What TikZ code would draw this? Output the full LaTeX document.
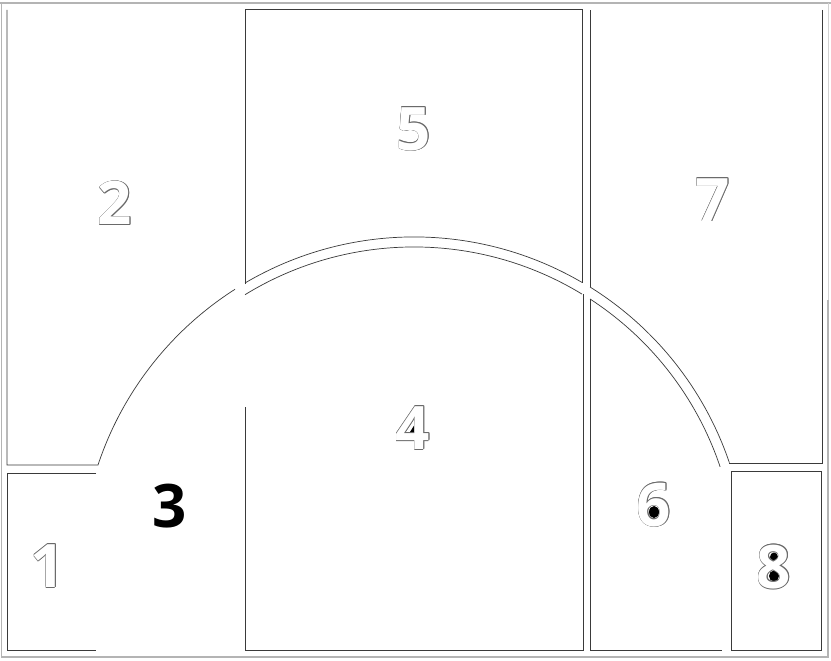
\documentclass[tikz,border=0pt]{standalone}
\usepackage{fontspec}
\setmainfont{Open Sans}
\definecolor{edge}{HTML}{3A3A3A}
\definecolor{framegray}{HTML}{B4B4B4}
\definecolor{olgray}{HTML}{6A6A6A}
\newcommand\oc[3]{\makebox[0pt][l]{\hspace*{#1}\raisebox{#2}{\color{olgray}#3}}}
\newcommand\olnum[1]{\oc{0.6pt}{0pt}{#1}\oc{-0.6pt}{0pt}{#1}\oc{0pt}{0.6pt}{#1}\oc{0pt}{-0.6pt}{#1}\oc{0.42pt}{0.42pt}{#1}\oc{-0.42pt}{0.42pt}{#1}\oc{0.42pt}{-0.42pt}{#1}\oc{-0.42pt}{-0.42pt}{#1}{\color{white}#1}}
\begin{document}
\begin{tikzpicture}[x=1pt,y=-1pt,
  panel/.style={draw=edge,line width=0.7pt},
  outer/.style={draw=framegray,line width=1.2pt},
  numlabel/.style={font=\fontsize{60}{60}\selectfont\bfseries,inner sep=0pt,anchor=center},
  boldlabel/.style={font=\fontsize{60}{60}\selectfont\bfseries,inner sep=0pt,anchor=center,text=black},
  hole/.style={fill=black,draw=none}]
\useasboundingbox (0,0) rectangle (831,661);
\fill[white] (0,0) rectangle (831,661);
% outer frame (shadow)
\draw[outer] (0,3) -- (831,3);
\draw[draw=framegray,line width=0.8pt] (1,3) -- (1,657);
\draw[outer] (1,657) -- (828,657) -- (828,300);
\draw[draw=framegray!60,line width=0.8pt] (828,300) -- (828,3);
% panel 2
\draw[panel] (7,10) -- (7,465) -- (98,465) arc[start angle=198.4,end angle=237.5,radius=333];
% panel 5
\draw[panel] (245,284) -- (245,9) -- (582,9) -- (582,282.5);
\draw[panel] (245,283) arc[start angle=239.5,end angle=300.3,radius=333];
% panel 7
\draw[panel] (590,287) -- (590,10);
\draw[panel] (822,10) -- (822,463) -- (729,463);
\draw[panel] (590,287) arc[start angle=301.9,end angle=341.26,radius=333];
% panel 1
\draw[panel] (96,473) -- (7,473) -- (7,650) -- (96,650);
% panel 4
\draw[panel] (245,294.7) arc[start angle=238.45,end angle=301.34,radius=323];
\draw[panel] (245,407) -- (245,650) -- (583,650) -- (583,294);
% panel 6
\draw[panel] (590,299) arc[start angle=303.02,end angle=341.4,radius=323];
\draw[panel] (590,299) -- (590,650) -- (722,650);
% panel 8
\draw[panel] (731,471) rectangle (821,650);
% dark counters of the outlined digits
\fill[hole] (415,424) -- (410,432) -- (415,432) -- cycle;
\fill[hole] (654,512) ellipse[x radius=5,y radius=6];
\fill[hole] (774,557) ellipse[x radius=4,y radius=4.5];
\fill[hole] (774,576) ellipse[x radius=5,y radius=5.5];
% labels
\node[numlabel] (n2) at (115,203) {\olnum{2}};
\node[numlabel] (n5) at (414,129) {\olnum{5}};
\node[numlabel] (n7) at (713,200) {\olnum{7}};
\node[numlabel] (n4) at (413,428) {\olnum{4}};
\node[boldlabel] (n3) at (170,506) {3};
\node[numlabel] (n1) at (48,566) {\olnum{1}};
\node[numlabel] (n6) at (654,505) {\olnum{6}};
\node[numlabel] (n8) at (774,567) {\olnum{8}};
\end{tikzpicture}
\end{document}
